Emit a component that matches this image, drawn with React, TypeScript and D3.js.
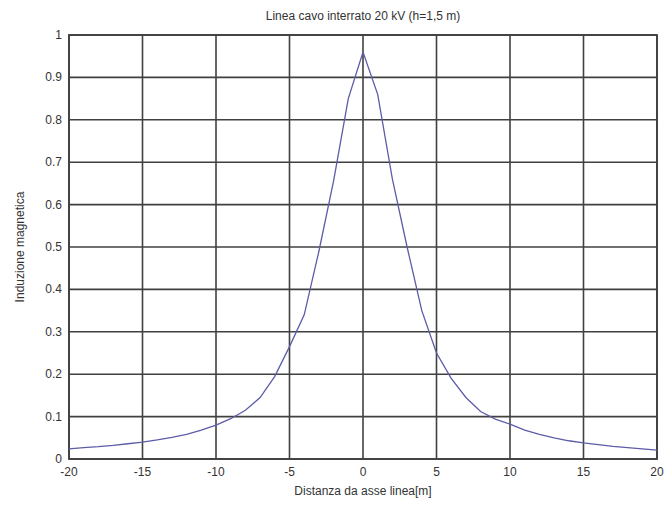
import React from "react";
import * as d3 from "d3";

const distances = [-20, -19, -18, -17, -16, -15, -14, -13, -12, -11, -10, -9, -8, -7, -6, -5, -4, -3, -2, -1, 0, 1, 2, 3, 4, 5, 6, 7, 8, 9, 10, 11, 12, 13, 14, 15, 16, 17, 18, 19, 20];
const induction = [0.024, 0.027, 0.029, 0.032, 0.036, 0.04, 0.045, 0.051, 0.058, 0.068, 0.08, 0.095, 0.115, 0.145, 0.195, 0.265, 0.34, 0.49, 0.656, 0.85, 0.96, 0.86, 0.66, 0.5, 0.35, 0.25, 0.19, 0.145, 0.112, 0.094, 0.082, 0.068, 0.058, 0.05, 0.043, 0.038, 0.034, 0.03, 0.027, 0.024, 0.021];
const xTicks = [-20, -15, -10, -5, 0, 5, 10, 15, 20];
const yTicks = [0, 0.1, 0.2, 0.3, 0.4, 0.5, 0.6, 0.7, 0.8, 0.9, 1];

const W = 665, H = 505;
const L = 69, R = 657, T = 35, B = 459;

export default function App() {
  const x = d3.scaleLinear().domain([-20, 20]).range([L, R]);
  const y = d3.scaleLinear().domain([0, 1]).range([B, T]);
  const pts = distances.map((d, i) => [d, induction[i]] as [number, number]);
  const line = d3.line<[number, number]>().x(d => x(d[0])).y(d => y(d[1]));
  const font = "'Liberation Sans', Arial, sans-serif";
  return (
    <svg width={W} height={H} style={{ position: "absolute", left: 0, top: 0, background: "#fff" }}>
      <rect x={0} y={0} width={W} height={H} fill="#fff" />
      {xTicks.map(t => (
        <line key={"gx" + t} x1={x(t)} x2={x(t)} y1={T} y2={B} stroke="#404040" strokeWidth={1.6} />
      ))}
      {yTicks.map(t => (
        <line key={"gy" + t} x1={L} x2={R} y1={y(t)} y2={y(t)} stroke="#404040" strokeWidth={1.6} />
      ))}
      <rect x={L} y={T} width={R - L} height={B - T} fill="none" stroke="#404040" strokeWidth={1.8} />
      <path d={line(pts) || ""} fill="none" stroke="#5c5ca8" strokeWidth={1.3} />
      {xTicks.map(t => (
        <text key={"tx" + t} x={x(t)} y={B + 17} textAnchor="middle" fontFamily={font} fontSize={12} fill="#333">{t}</text>
      ))}
      {yTicks.map(t => (
        <text key={"ty" + t} x={L - 7} y={y(t) + 4} textAnchor="end" fontFamily={font} fontSize={12} fill="#333">{t === 0 ? "0" : t === 1 ? "1" : t.toFixed(1)}</text>
      ))}
      <text x={(L + R) / 2} y={20} textAnchor="middle" fontFamily={font} fontSize={12} fill="#333">Linea cavo interrato 20 kV (h=1,5 m)</text>
      <text x={(L + R) / 2} y={495} textAnchor="middle" fontFamily={font} fontSize={12} fill="#333">Distanza da asse linea[m]</text>
      <text transform={`translate(24,${(T + B) / 2}) rotate(-90)`} textAnchor="middle" fontFamily={font} fontSize={12} fill="#333">Induzione magnetica</text>
    </svg>
  );
}
